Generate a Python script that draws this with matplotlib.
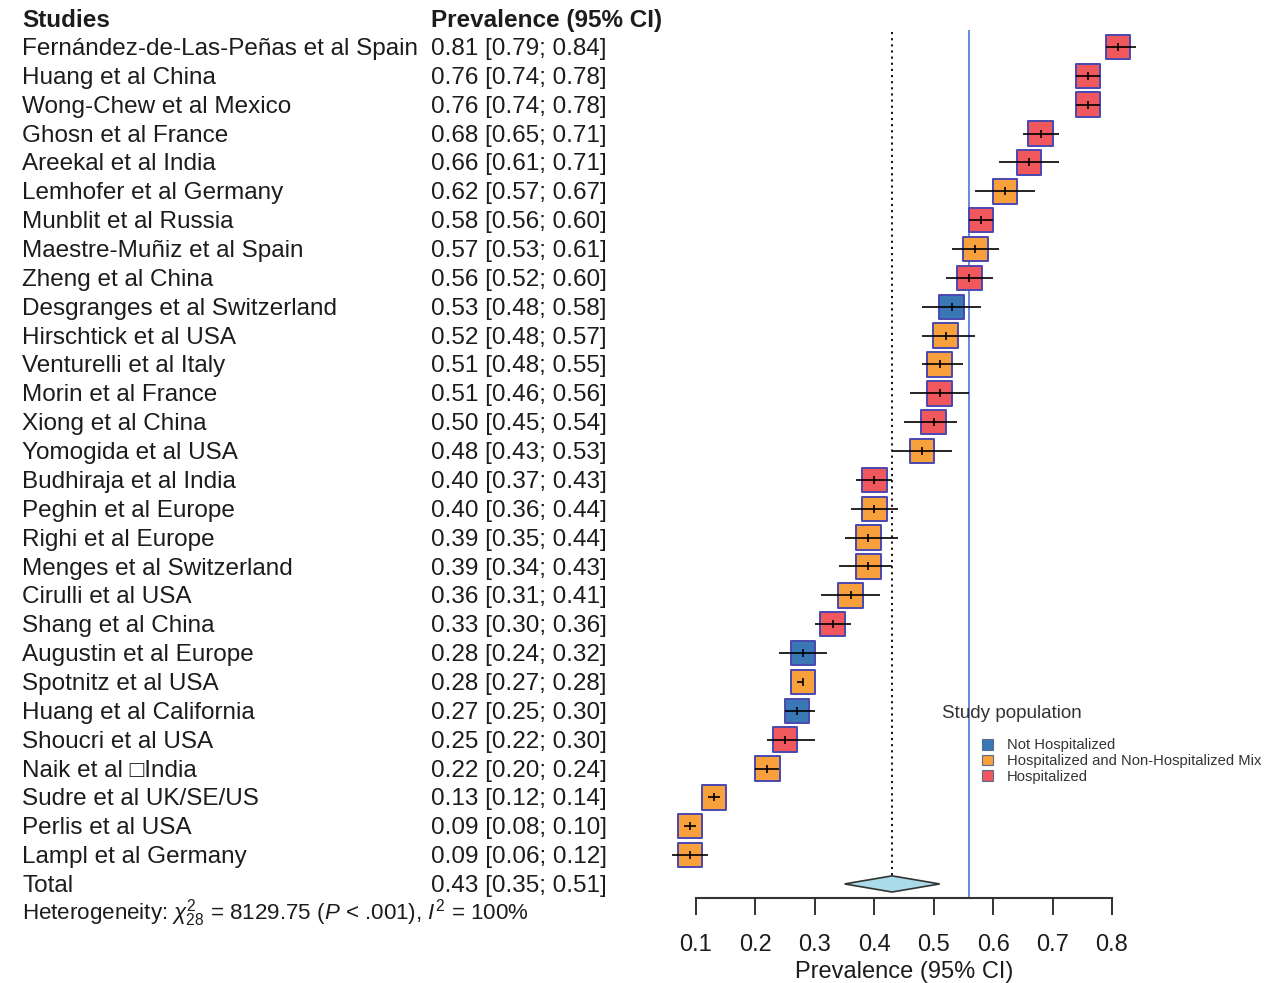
import numpy as np
import matplotlib
matplotlib.use("Agg")
import matplotlib.pyplot as plt
from matplotlib.patches import Patch
from matplotlib.transforms import blended_transform_factory

plt.rcParams["font.family"] = ["Liberation Sans", "DejaVu Sans"]
plt.rcParams["mathtext.fontset"] = "custom"
plt.rcParams["mathtext.rm"] = "Liberation Sans"
plt.rcParams["mathtext.it"] = "Liberation Sans:italic"

# ---- data -----------------------------------------------------------------
studies = [
    "Fernández-de-Las-Peñas et al Spain", "Huang et al China",
    "Wong-Chew et al Mexico", "Ghosn et al France", "Areekal et al India",
    "Lemhofer et al Germany", "Munblit et al Russia",
    "Maestre-Muñiz et al Spain", "Zheng et al China",
    "Desgranges et al Switzerland", "Hirschtick et al USA",
    "Venturelli et al Italy", "Morin et al France", "Xiong et al China",
    "Yomogida et al USA", "Budhiraja et al India", "Peghin et al Europe",
    "Righi et al Europe", "Menges et al Switzerland", "Cirulli et al USA",
    "Shang et al China", "Augustin et al Europe", "Spotnitz et al USA",
    "Huang et al California", "Shoucri et al USA", "Naik et al \u25a1India",
    "Sudre et al UK/SE/US", "Perlis et al USA", "Lampl et al Germany",
]
prev = [0.81, 0.76, 0.76, 0.68, 0.66, 0.62, 0.58, 0.57, 0.56, 0.53, 0.52,
        0.51, 0.51, 0.50, 0.48, 0.40, 0.40, 0.39, 0.39, 0.36, 0.33, 0.28,
        0.28, 0.27, 0.25, 0.22, 0.13, 0.09, 0.09]
lo = [0.79, 0.74, 0.74, 0.65, 0.61, 0.57, 0.56, 0.53, 0.52, 0.48, 0.48,
      0.48, 0.46, 0.45, 0.43, 0.37, 0.36, 0.35, 0.34, 0.31, 0.30, 0.24,
      0.27, 0.25, 0.22, 0.20, 0.12, 0.08, 0.06]
hi = [0.84, 0.78, 0.78, 0.71, 0.71, 0.67, 0.60, 0.61, 0.60, 0.58, 0.57,
      0.55, 0.56, 0.54, 0.53, 0.43, 0.44, 0.44, 0.43, 0.41, 0.36, 0.32,
      0.28, 0.30, 0.30, 0.24, 0.14, 0.10, 0.12]
# H = hospitalized, M = mix, N = not hospitalized
group = ["H", "H", "H", "H", "H", "M", "H", "M", "H", "N", "M", "M", "H",
         "H", "M", "H", "M", "M", "M", "M", "H", "N", "M", "N", "H", "M",
         "M", "M", "M"]
total_est, total_lo, total_hi = 0.43, 0.35, 0.51
ref_line = 0.56
group_labels = {"N": "Not Hospitalized",
                "M": "Hospitalized and Non-Hospitalized Mix",
                "H": "Hospitalized"}
group_colors = {"N": "#3a78b5", "M": "#f7a03c", "H": "#f0585e"}

# ---- figure ---------------------------------------------------------------
W, H = 1271, 983
fig = plt.figure(figsize=(W / 100, H / 100), dpi=100)
ax_bottom_px = 898
ax = fig.add_axes([0, 1 - ax_bottom_px / H, 1, ax_bottom_px / H])

# pixel mapping: 0.1 -> 696 px, 0.8 -> 1112 px; rows start at 47 px, 28.86 px apart
ppu = (1112 - 696) / 0.7
ax.set_xlim(0.1 - 696 / ppu, 0.1 + (W - 696) / ppu)
row_h = 28.86
ax.set_ylim((ax_bottom_px - 47) / row_h, -47 / row_h)

n = len(studies)
rows = np.arange(n)
txt_color = "#1c1c1c"
fs = 17.5
dy = 0.07  # nudge text down so glyphs sit on the row centre
xt = blended_transform_factory(ax.transAxes, ax.transData)

# left-hand columns
ax.text(22 / W, -1 + dy, "Studies", transform=xt, fontsize=fs,
        fontweight="bold", va="center", color=txt_color)
ax.text(431 / W, -1 + dy, "Prevalence (95% CI)", transform=xt, fontsize=fs,
        fontweight="bold", va="center", color=txt_color)
for i in range(n):
    ax.text(22 / W, i + dy, studies[i], transform=xt, fontsize=fs,
            va="center", color=txt_color)
    ax.text(431 / W, i + dy, f"{prev[i]:.2f} [{lo[i]:.2f}; {hi[i]:.2f}]",
            transform=xt, fontsize=fs, va="center", color=txt_color)
ax.text(22 / W, n + dy, "Total", transform=xt, fontsize=fs, va="center",
        color=txt_color)
ax.text(431 / W, n + dy, f"{total_est:.2f} [{total_lo:.2f}; {total_hi:.2f}]",
        transform=xt, fontsize=fs, va="center", color=txt_color)
ax.text(22 / W, n + 1.0,
        r"Heterogeneity: $\chi^2_{28}$ = 8129.75 ($P$ < .001), $I^2$ = 100%",
        transform=xt, fontsize=16.1, va="center", color=txt_color,
        clip_on=False)

# reference lines
ax.vlines(total_est, -0.52, n - 0.28, colors="black", linestyles=(0, (1.2, 2.2)),
          linewidth=1.3, zorder=1)
ax.vlines(ref_line, -0.6, (ax_bottom_px - 47) / row_h, colors="#4a78d0",
          linewidth=1.2, zorder=1)

# squares + CIs
cols = [group_colors[g] for g in group]
ax.scatter(prev, rows, s=310, marker="s", c=cols, edgecolors="#4a48b0",
           linewidths=1.4, zorder=3)
ax.hlines(rows, lo, hi, colors="black", linewidth=1.2, zorder=4)
ax.plot(prev, rows, linestyle="none", marker="|", markersize=6,
        color="black", markeredgewidth=1.2, zorder=5)

# summary diamond
dh = 0.28
ax.fill([total_lo, total_est, total_hi, total_est],
        [n, n - dh, n, n + dh], facecolor="#a9dbe8", edgecolor="#333333",
        linewidth=1.2, zorder=3)

# x axis
for s in ["top", "left", "right"]:
    ax.spines[s].set_visible(False)
ax.spines["bottom"].set_bounds(0.1, 0.8)
ax.spines["bottom"].set_color("#333333")
ax.spines["bottom"].set_linewidth(1.5)
ticks = [0.1, 0.2, 0.3, 0.4, 0.5, 0.6, 0.7, 0.8]
ax.set_xticks(ticks)
ax.set_xticklabels([f"{t:.1f}" for t in ticks])
ax.tick_params(axis="x", length=12, width=1.4, color="#333333", pad=14,
               labelsize=17, labelcolor=txt_color)
ax.set_yticks([])
ax.text(0.45, -(972 - ax_bottom_px) / ax_bottom_px, "Prevalence (95% CI)",
        transform=blended_transform_factory(ax.transData, ax.transAxes),
        fontsize=17, ha="center", va="center", color=txt_color, clip_on=False)

# legend
fig.text(942 / W, 1 - 713 / H, "Study population", fontsize=13.6,
         va="center", ha="left", color="#333333")
handles = [Patch(facecolor=group_colors[k], edgecolor="#5a6a8a",
                 linewidth=0.8, label=group_labels[k]) for k in ["N", "M", "H"]]
fig.legend(handles=handles, loc="upper left",
           bbox_to_anchor=(975 / W, 1 - 731 / H), frameon=False,
           fontsize=10.6, handlelength=0.75, handleheight=0.75,
           handletextpad=0.9, labelspacing=0.12, borderpad=0,
           labelcolor="#333333")

fig.savefig("out.png", dpi=100)
